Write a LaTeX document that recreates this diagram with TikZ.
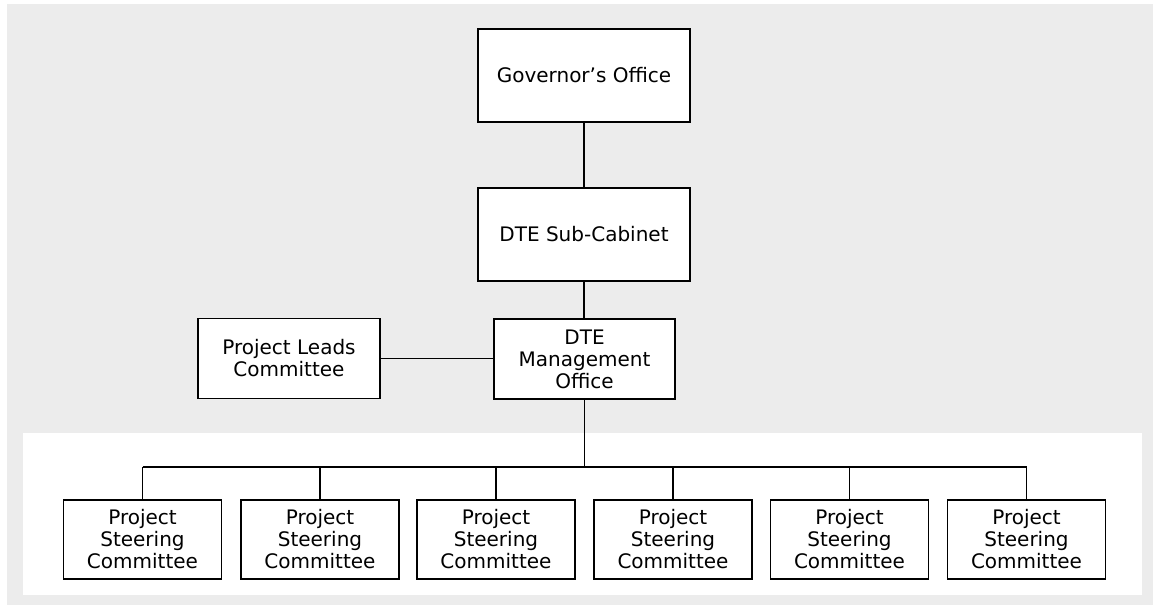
\documentclass[tikz,border=0pt]{standalone}
\usepackage{fontspec}
\setmainfont{DejaVu Sans}
\definecolor{halftone}{RGB}{236,236,236}
\tikzset{
  orgbox/.style={draw=black, line width=1.5pt, fill=white, inner sep=0pt, align=center,
    font=\fontsize{20}{22}\selectfont},
  bigbox/.style={orgbox, minimum width=212pt, minimum height=93pt},
  midbox/.style={orgbox, minimum width=182pt, minimum height=80pt},
  pscbox/.style={orgbox, minimum width=158pt, minimum height=79pt},
  link/.style={draw=black, line width=1.5pt}
}
\begin{document}
\begin{tikzpicture}[x=1pt,y=-1pt]
\useasboundingbox (0,0) rectangle (1153,605);
\fill[white] (0,0) rectangle (1153,605);
\fill[halftone] (7,4) rectangle (1153,605);
\fill[white] (23,433) rectangle (1142,595);

\node[bigbox] (gov) at (584,75.5) {Governor’s Office};
\node[bigbox] (sub) at (584,234.5) {DTE Sub-Cabinet};
\node[midbox, minimum width=181pt] (mgmt) at (584.5,359) {DTE\\Management\\Office};
\node[midbox] (leads) at (289,358.5) {Project Leads\\Committee};

\foreach \i/\x in {1/142.5,2/320,3/496,4/673,5/849.5,6/1026.5}{
  \node[pscbox] (psc\i) at (\x,539.5) {Project\\Steering\\Committee};
}

\coordinate (bus) at (584.5,467);
\draw[link] (gov) -- (sub);
\draw[link] (sub.south) -- (sub.south |- mgmt.north);
\draw[link] (leads.east) -- (leads.east -| mgmt.west);
\draw[link] (mgmt.south) -- (bus);
\draw[link] (psc1.north |- bus) -- (psc6.north |- bus);
\foreach \i in {1,...,6}{
  \draw[link] (psc\i.north |- bus) -- (psc\i.north);
}
\end{tikzpicture}
\end{document}
